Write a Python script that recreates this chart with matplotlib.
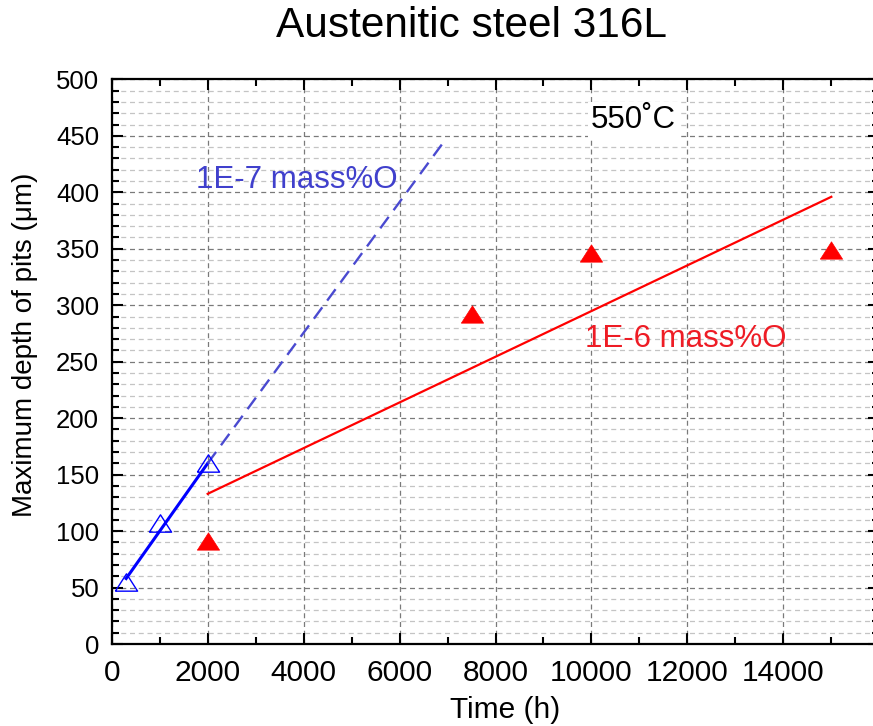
import numpy as np
import matplotlib
matplotlib.use('Agg')
import matplotlib.pyplot as plt
from matplotlib.ticker import MultipleLocator

plt.rcParams['font.family'] = ['Liberation Sans', 'DejaVu Sans']

# measured points
blue_t = [300, 1000, 2000]
blue_d = [55, 107, 160]
red_t = [2000, 7500, 10000, 15000]
red_d = [91, 292, 346, 349]

# fitted lines (end points)
blue_fit_t = [300, 2000]
blue_fit_d = [58, 160]
blue_ext_t = [2000, 6910]
blue_ext_d = [160, 444]
red_fit_t = [2000, 15000]
red_fit_d = [133, 396]

x_ticks = [0, 2000, 4000, 6000, 8000, 10000, 12000, 14000]
y_ticks = [0, 50, 100, 150, 200, 250, 300, 350, 400, 450, 500]

# wide, flat triangle like the original
tri = [(-1, -0.78), (1, -0.78), (0, 0.78), (-1, -0.78)]

fig = plt.figure(figsize=(8.73, 7.26), dpi=100)
ax = fig.add_axes([0.128, 0.1129, 0.8792, 0.7778])

ax.set_xlim(0, 16000)
ax.set_ylim(0, 500)
ax.set_xticks(x_ticks)
ax.set_yticks(y_ticks)
ax.xaxis.set_minor_locator(MultipleLocator(1000))
ax.yaxis.set_minor_locator(MultipleLocator(10))

# grid
ax.set_axisbelow(True)
ax.grid(which='minor', axis='y', color='#c4c4c4', linestyle=(0, (4, 3)), linewidth=0.9)
ax.grid(which='major', axis='y', color='#7a7a7a', linestyle=(0, (4, 3)), linewidth=0.9)
ax.grid(which='major', axis='x', color='#7a7a7a', linestyle=(0, (4, 3)), linewidth=0.9)

# lines
ax.plot(blue_fit_t, blue_fit_d, color='#0000ff', linewidth=2.2, zorder=3)
ax.plot(blue_ext_t, blue_ext_d, color='#4a4ad0', linewidth=1.7,
        linestyle=(0, (6, 3.5)), zorder=3)
ax.plot(red_fit_t, red_fit_d, color='#ff0000', linewidth=1.6, zorder=3)

# markers
ax.plot(blue_t, blue_d, linestyle='none', marker=tri, markersize=16,
        markerfacecolor='none', markeredgecolor='#0000ff', markeredgewidth=1.0, zorder=4)
ax.plot(red_t, red_d, linestyle='none', marker=tri, markersize=16,
        markerfacecolor='#ff0000', markeredgecolor='#ff0000', markeredgewidth=0.5, zorder=4)

# annotations
ax.text(10870, 464, '550˚C', fontsize=22.5, ha='center', va='center',
        bbox=dict(facecolor='white', edgecolor='none', pad=2), zorder=5)
ax.text(3860, 411, '1E-7 mass%O', fontsize=22.5, color='#4040cc', ha='center', va='center', zorder=5)
ax.text(11970, 270, '1E-6 mass%O', fontsize=22.5, color='#ee1c25', ha='center', va='center', zorder=5)

# axes styling
for s in ax.spines.values():
    s.set_linewidth(1.6)
ax.tick_params(which='both', direction='in', top=True, right=True, width=1.5)
ax.tick_params(which='major', length=8)
ax.tick_params(which='minor', length=5)
ax.tick_params(axis='x', labelsize=21.5, pad=11)
ax.tick_params(axis='y', labelsize=18.5, pad=9)

ax.set_xlabel('Time (h)', fontsize=21.5)
ax.set_ylabel('Maximum depth of pits (μm)', fontsize=20)
ax.xaxis.set_label_coords((505 - 111.7) / 767.5, -0.092)
ax.yaxis.set_label_coords(-0.096, (644 - 345) / 564.7)

fig.text(472 / 873, 1 - 37 / 726, 'Austenitic steel 316L', fontsize=30.5,
         ha='center', va='baseline')

fig.savefig('out.png', dpi=100)
